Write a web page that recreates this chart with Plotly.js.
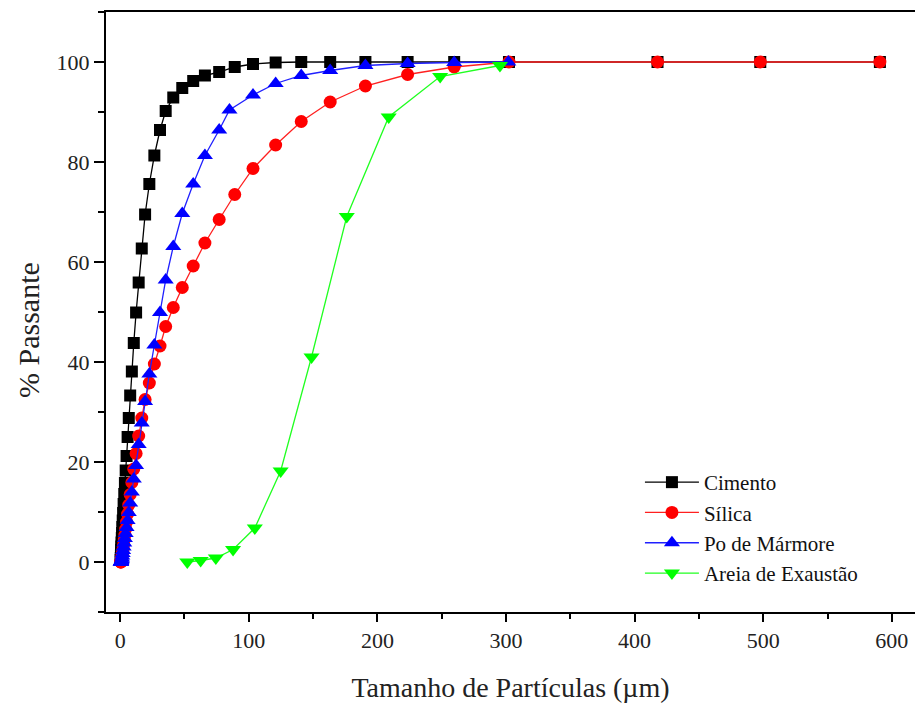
<!DOCTYPE html>
<html>
<head>
<meta charset="utf-8">
<script src="https://cdn.plot.ly/plotly-3.0.1.min.js"></script>
<style>html,body{margin:0;padding:0;background:#fff;}#chart{width:915px;height:703px;}</style>
</head>
<body>
<div id="chart"></div>
<script>
// Particle size (µm) and % passing
var cimentoX = [0.4, 0.5, 0.6, 0.7, 0.8, 0.9, 1.1, 1.3, 1.5, 1.7, 2.0, 2.3, 2.7, 3.2, 3.7, 4.3, 5.0, 5.8, 6.7, 7.8, 9.1, 10.6, 12.4, 14.4, 16.8, 19.4, 22.7, 26.6, 31.0, 35.4, 41.3, 48.3, 56.8, 65.9, 77.0, 89.1, 103.3, 120.9, 140.8, 163.3, 190.7, 223.5, 259.7, 302.3, 417.8, 497.7, 590.7];
var cimentoY = [0.4, 0.8, 1.3, 1.8, 2.4, 3.1, 3.9, 4.8, 5.8, 7.0, 8.3, 9.8, 11.6, 13.6, 15.8, 18.3, 21.2, 25.0, 28.8, 33.3, 38.1, 43.8, 49.9, 55.9, 62.7, 69.5, 75.6, 81.3, 86.4, 90.2, 92.9, 94.8, 96.2, 97.3, 98.0, 99.0, 99.6, 99.9, 100, 100, 100, 100, 100, 100, 100, 100, 100];

var silicaX = [0.4, 0.5, 0.6, 0.7, 0.8, 0.9, 1.1, 1.3, 1.5, 1.7, 2.0, 2.3, 2.7, 3.2, 3.7, 4.3, 5.0, 5.8, 6.7, 7.8, 9.1, 10.6, 12.4, 14.4, 16.8, 19.4, 22.7, 26.6, 31.0, 35.4, 41.3, 48.3, 56.8, 65.9, 77.0, 89.1, 103.3, 120.9, 140.8, 163.3, 190.7, 223.5, 259.7, 302.3, 417.8, 497.7, 590.7];
var silicaY = [0, 0, 0, 0.1, 0.2, 0.4, 0.6, 0.9, 1.2, 1.6, 2.1, 2.7, 3.5, 4.4, 5.4, 6.6, 8.0, 9.6, 11.4, 13.5, 15.9, 18.6, 21.7, 25.2, 28.8, 32.5, 35.8, 39.6, 43.2, 47.1, 50.9, 54.9, 59.2, 63.8, 68.5, 73.5, 78.7, 83.4, 88.1, 92.0, 95.2, 97.5, 99.0, 100, 100, 100, 100];

var marmoreX = [0.4, 0.5, 0.6, 0.7, 0.8, 0.9, 1.1, 1.3, 1.5, 1.7, 2.0, 2.3, 2.7, 3.2, 3.7, 4.3, 5.0, 5.8, 6.7, 7.8, 9.1, 10.6, 12.4, 14.4, 16.8, 19.4, 22.7, 26.6, 31.0, 35.4, 41.3, 48.3, 56.8, 65.9, 77.0, 85.0, 103.3, 120.9, 140.8, 163.3, 190.7, 223.5, 259.7, 301.8];
var marmoreY = [0, 0, 0, 0, 0, 0.1, 0.3, 0.5, 0.8, 1.2, 1.7, 2.3, 3.0, 3.8, 4.7, 5.7, 6.9, 8.3, 9.9, 11.8, 14.0, 16.6, 19.3, 23.5, 27.8, 32.1, 37.6, 43.4, 49.9, 56.4, 63.1, 69.7, 75.6, 81.3, 86.4, 90.4, 93.4, 95.7, 97.3, 98.3, 99.3, 99.7, 99.9, 100];

var areiaX = [52.2, 62.6, 74.4, 87.8, 104.7, 124.8, 148.8, 176.2, 208.8, 248.8, 295.3];
var areiaY = [0, 0.3, 0.8, 2.5, 6.8, 18.2, 41.0, 69.1, 89.0, 97.1, 99.3];

var names = ['Cimento', 'Sílica', 'Po de Mármore', 'Areia de Exaustão'];
var xTicks = [0, 100, 200, 300, 400, 500, 600];
var yTicks = [0, 20, 40, 60, 80, 100];
var xTitle = 'Tamanho de Partículas (µm)';
var yTitle = '% Passante';

var serif = '"Times New Roman", "Liberation Serif", serif';

var traces = [
  {x: cimentoX, y: cimentoY, name: names[0], legendgroup: 'a', type: 'scatter', mode: 'lines+markers',
   line: {color: '#000000', width: 1.3}, marker: {symbol: 'square', size: 12, color: '#000000'}},
  {x: silicaX, y: silicaY, name: names[1], legendgroup: 'b', type: 'scatter', mode: 'lines+markers',
   line: {color: '#ff2020', width: 1.3}, marker: {symbol: 'circle', size: 13, color: '#ff0000'}},
  {x: marmoreX, y: marmoreY, name: names[2], legendgroup: 'c', type: 'scatter', mode: 'lines+markers',
   line: {color: '#2020ff', width: 1.3}, marker: {symbol: 'triangle-up', size: 14, color: '#0000ff'}},
  {x: areiaX, y: areiaY, name: names[3], legendgroup: 'd', type: 'scatter', mode: 'lines+markers',
   line: {color: '#20ff20', width: 1.3}, marker: {symbol: 'triangle-down', size: 14, color: '#00ff00'}}
];

var layout = {
  width: 915, height: 703,
  margin: {l: 106, r: 0, t: 12, b: 91},
  paper_bgcolor: '#ffffff', plot_bgcolor: '#ffffff',
  font: {family: serif, color: '#222222', size: 22},
  showlegend: true,
  legend: {x: 0.66, y: 0.25, xanchor: 'left', yanchor: 'top', bgcolor: 'rgba(0,0,0,0)',
           font: {family: serif, size: 21, color: '#111111'}, tracegroupgap: 0, itemwidth: 54},
  xaxis: {
    range: [-11, 618], tickmode: 'array', tickvals: xTicks, ticktext: xTicks.map(String),
    ticks: 'outside', ticklen: 8, tickwidth: 2, tickcolor: '#000',
    minor: {dtick: 50, tick0: 0, ticks: 'outside', ticklen: 5, tickwidth: 2, tickcolor: '#000'},
    showline: true, linecolor: '#000', linewidth: 2, mirror: true,
    showgrid: false, zeroline: false,
    tickfont: {family: serif, size: 22, color: '#222'},
    title: {text: xTitle, font: {family: serif, size: 28, color: '#222'}, standoff: 26}
  },
  yaxis: {
    range: [-10, 110], tickmode: 'array', tickvals: yTicks, ticktext: yTicks.map(String),
    ticks: 'outside', ticklen: 10, tickwidth: 2, tickcolor: '#000',
    minor: {dtick: 10, tick0: 0, ticks: 'outside', ticklen: 6, tickwidth: 2, tickcolor: '#000'},
    showline: true, linecolor: '#000', linewidth: 2, mirror: false,
    showgrid: false, zeroline: false,
    tickfont: {family: serif, size: 22, color: '#222'}
  },
  annotations: [
    {text: yTitle, xref: 'paper', yref: 'paper', x: -0.0964, y: 0.47, xanchor: 'center', yanchor: 'middle',
     textangle: -90, showarrow: false, font: {family: serif, size: 30, color: '#222'}}
  ]
};

Plotly.newPlot('chart', traces, layout, {displayModeBar: false, staticPlot: true});
</script>
</body>
</html>
